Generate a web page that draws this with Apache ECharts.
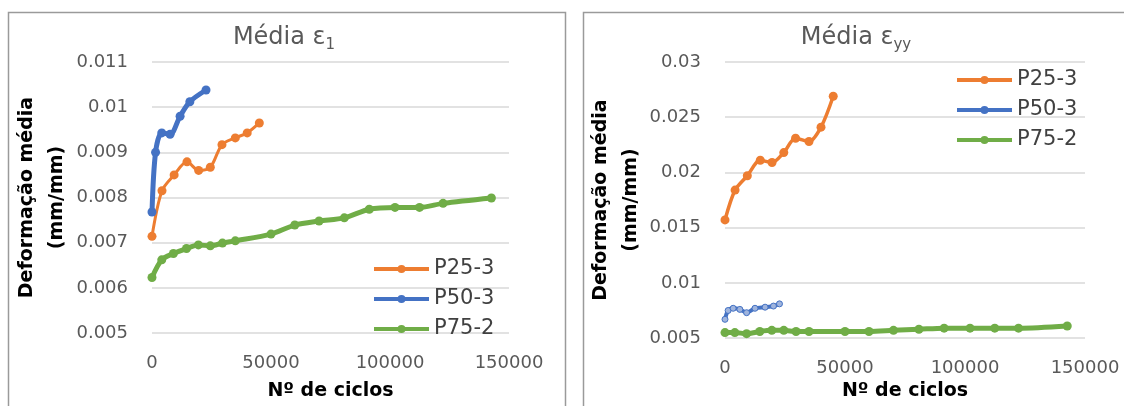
<!DOCTYPE html>
<html>
<head>
<meta charset="utf-8">
<title>Deformação média</title>
<script src="https://cdn.jsdelivr.net/npm/echarts@6/dist/echarts.min.js"></script>
<style>
  html, body { margin: 0; padding: 0; background: #ffffff; }
  #chart { width: 1124px; height: 406px; }
</style>
</head>
<body>
<div id="chart"></div>
<script>
// Nº de ciclos at each reading, per specimen
const cyclesP25 = [0, 4200, 9300, 14700, 19600, 24500, 29400, 35000, 40000, 45100];
const cyclesP50e1 = [0, 1500, 4100, 7600, 11800, 15900, 22700];
const cyclesP50eyy = [0, 1300, 3400, 6200, 9000, 12500, 16700, 20200, 22700];
const cyclesP75 = [0, 4100, 9000, 14500, 19500, 24500, 29600, 35000, 50000, 60000, 70200, 80800, 91300, 102100, 112400, 122300, 142600];

// Média ε1 (mm/mm)
const e1P25 = [0.00714, 0.00815, 0.00850, 0.00879, 0.00860, 0.00867, 0.00917, 0.00932, 0.00943, 0.00965];
const e1P50 = [0.00768, 0.00900, 0.00943, 0.00940, 0.00980, 0.01012, 0.01038];
const e1P75 = [0.00623, 0.00662, 0.00676, 0.00687, 0.00695, 0.00693, 0.00699, 0.00704, 0.00719, 0.00739, 0.00748, 0.00755, 0.00774, 0.00778, 0.00778, 0.00787, 0.00799];

// Média εyy (mm/mm)
const eyyP25 = [0.0157, 0.0184, 0.0197, 0.0211, 0.0209, 0.0218, 0.0231, 0.0228, 0.0241, 0.0269];
const eyyP50 = [0.0067, 0.0075, 0.0077, 0.0076, 0.0073, 0.0077, 0.0078, 0.0079, 0.0081];
const eyyP75 = [0.0055, 0.0055, 0.0054, 0.0056, 0.0057, 0.0057, 0.0056, 0.0056, 0.0056, 0.0056, 0.0057, 0.0058, 0.0059, 0.0059, 0.0059, 0.0059, 0.0061];

const seriesNames = ['P25-3', 'P50-3', 'P75-2'];
const xTickMax = 150000;
const xTickStep = 50000;

const FONT = 'DejaVu Sans';
const GREY = '#595959';
const ORANGE = '#ed7d31';
const BLUE = '#4472c4';
const GREEN = '#70ad47';

function pairs(xs, ys) {
  return xs.map((x, i) => [x, ys[i]]);
}

function xAxisFor(gridIndex, nameGap) {
  return {
    gridIndex,
    type: 'value',
    min: 0,
    max: xTickMax,
    interval: xTickStep,
    axisLine: { show: false },
    axisTick: { show: false },
    splitLine: { show: false },
    axisLabel: {
      formatter: v => String(v),
      margin: 21,
      color: GREY,
      fontSize: 18,
      fontFamily: FONT
    },
    name: 'Nº de ciclos',
    nameLocation: 'middle',
    nameGap,
    nameTextStyle: { fontFamily: FONT, fontWeight: 'bold', fontSize: 19, color: '#000' }
  };
}

function yAxisFor(gridIndex, min, max, interval, nameGap) {
  return {
    gridIndex,
    type: 'value',
    min, max, interval,
    axisLine: { show: false },
    axisTick: { show: false },
    splitLine: { show: true, lineStyle: { color: '#d9d9d9', width: 1.5 } },
    axisLabel: { margin: 24, color: GREY, fontSize: 18, fontFamily: FONT },
    name: 'Deformação média\n(mm/mm)',
    nameLocation: 'middle',
    nameRotate: 90,
    nameGap,
    nameTextStyle: { fontFamily: FONT, fontWeight: 'bold', fontSize: 19, color: '#000', lineHeight: 30 }
  };
}

function lineSeries(name, idx, data, color, width, extra) {
  return Object.assign({
    name,
    type: 'line',
    xAxisIndex: idx,
    yAxisIndex: idx,
    data,
    smooth: 0.3,
    symbol: 'circle',
    symbolSize: 9,
    lineStyle: { color, width },
    itemStyle: { color },
    emphasis: { disabled: true }
  }, extra || {});
}

function legendAt(left, top) {
  return {
    data: seriesNames,
    orient: 'vertical',
    left, top,
    itemWidth: 55,
    itemHeight: 10,
    itemGap: 8,
    lineStyle: { width: 4 },
    textStyle: { fontFamily: FONT, fontSize: 21, color: '#404040', lineHeight: 22 }
  };
}

function titleText(x, main, sub) {
  return {
    type: 'text',
    x, y: 38,
    style: {
      text: '{m|' + main + '}{s|' + sub + '}',
      align: 'center',
      verticalAlign: 'middle',
      rich: {
        m: { fontFamily: FONT, fontSize: 24, fill: GREY, lineHeight: 30 },
        s: { fontFamily: FONT, fontSize: 15, fill: GREY, lineHeight: 14, verticalAlign: 'bottom' }
      }
    }
  };
}

const chart = echarts.init(document.getElementById('chart'), null, { renderer: 'canvas' });

chart.setOption({
  animation: false,
  backgroundColor: '#ffffff',
  graphic: [
    { type: 'rect', shape: { x: 8.5, y: 12.5, width: 557, height: 420 }, style: { fill: 'none', stroke: '#9a9a9a', lineWidth: 1.5 }, z: -1 },
    { type: 'rect', shape: { x: 583.5, y: 12.5, width: 560, height: 420 }, style: { fill: 'none', stroke: '#9a9a9a', lineWidth: 1.5 }, z: -1 },
    titleText(284, 'Média ε', '1'),
    titleText(856, 'Média ε', 'yy')
  ],
  grid: [
    { left: 152, top: 62, width: 357, height: 271 },
    { left: 725, top: 62, width: 360, height: 277 }
  ],
  xAxis: [xAxisFor(0, 49), xAxisFor(1, 43)],
  yAxis: [
    yAxisFor(0, 0.005, 0.011, 0.001, 80),
    yAxisFor(1, 0.005, 0.03, 0.005, 77)
  ],
  legend: [legendAt(367, 253), legendAt(950, 64)],
  series: [
    lineSeries('P25-3', 0, pairs(cyclesP25, e1P25), ORANGE, 3),
    lineSeries('P50-3', 0, pairs(cyclesP50e1, e1P50), BLUE, 5),
    lineSeries('P75-2', 0, pairs(cyclesP75, e1P75), GREEN, 5),
    lineSeries('P25-3', 1, pairs(cyclesP25, eyyP25), ORANGE, 3.5),
    lineSeries('P50-3', 1, pairs(cyclesP50eyy, eyyP50), BLUE, 4, {
      symbolSize: 6,
      itemStyle: { color: '#9fb4dd', borderColor: BLUE, borderWidth: 1 }
    }),
    lineSeries('P75-2', 1, pairs(cyclesP75, eyyP75), GREEN, 5)
  ]
});
</script>
</body>
</html>
